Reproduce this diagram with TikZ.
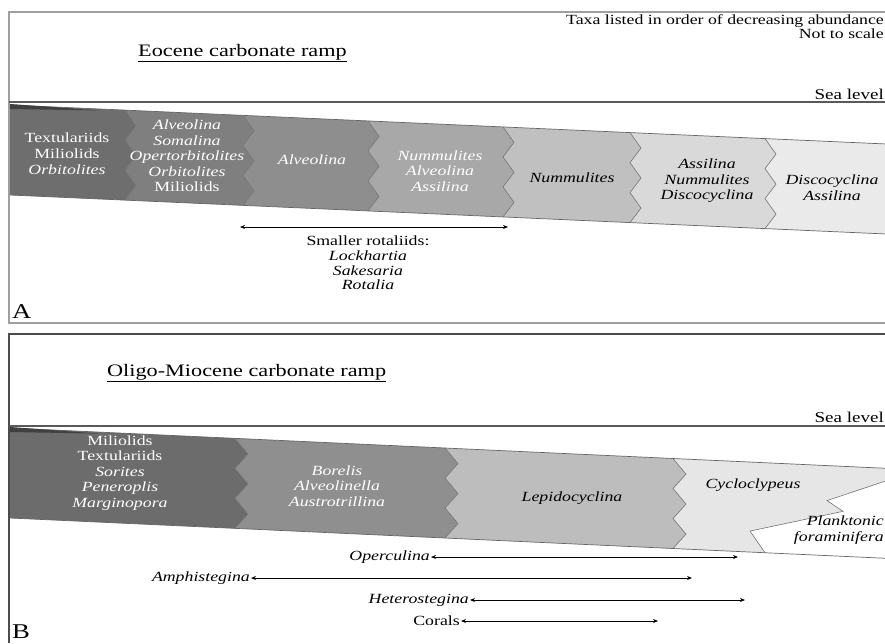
\documentclass[tikz,border=0pt]{standalone}
\usepackage{fontspec}
\setmainfont{Liberation Serif}[FakeStretch=1.27]
\usetikzlibrary{arrows.meta}
\definecolor{aone}{HTML}{6E6E6E}
\definecolor{atwo}{HTML}{7F7F7F}
\definecolor{athree}{HTML}{8E8E8E}
\definecolor{afour}{HTML}{A8A8A8}
\definecolor{afive}{HTML}{C0C0C0}
\definecolor{asix}{HTML}{D9D9D9}
\definecolor{aseven}{HTML}{EAEAEA}
\definecolor{bone}{HTML}{6C6C6C}
\definecolor{btwo}{HTML}{8F8F8F}
\definecolor{bthree}{HTML}{BDBDBD}
\definecolor{bfour}{HTML}{E6E6E6}
\newcommand\zzdown[2]{-- (#1,0) -- ({#1+#2},15) -- (#1,30) -- ({#1+#2},45) -- (#1,60) -- ({#1+#2},75) -- (#1,90)}
\newcommand\zzup[2]{-- (#1,90) -- ({#1+#2},75) -- (#1,60) -- ({#1+#2},45) -- (#1,30) -- ({#1+#2},15) -- (#1,0)}
\tikzset{
  frameline/.style={draw=gray!75, line width=1.3pt},
  sealine/.style={draw=black!65, line width=1.1pt},
  bandedge/.style={draw=black!60, line width=0.7pt},
  divider/.style={draw=black!55, line width=0.6pt},
  wtxt/.style={text=white, font=\fontsize{14}{15.6}\selectfont\itshape, align=center, inner sep=0pt},
  ktxt/.style={text=black, font=\fontsize{14}{15.6}\selectfont\itshape, align=center, inner sep=0pt},
  lab/.style={font=\fontsize{14}{14.7}\selectfont\itshape, inner sep=1pt},
  hdr/.style={font=\fontsize{14}{14}\selectfont, inner sep=0pt},
  ttl/.style={font=\fontsize{17.5}{17.5}\selectfont, inner sep=0pt, anchor=west},
  panel/.style={font=\fontsize{21}{21}\selectfont, inner sep=0pt, anchor=west},
  rng/.style={{Stealth[length=5pt,width=4pt]}-{Stealth[length=5pt,width=4pt]}, line width=0.8pt}
}
\begin{document}
\begin{tikzpicture}[x=1pt, y=-1pt]
\useasboundingbox (0,0) rectangle (885,643);
\clip (0,0) rectangle (885,643);
\fill[white] (0,0) rectangle (885,643);

% ---------- Panel A ----------
\draw[frameline] (885,12) -- (9,12) -- (9,323) -- (885,323);
\draw[sealine] (9,102) -- (885,102);
\node[hdr, anchor=east] (taxa) at (884,21) {Taxa listed in order of decreasing abundance};
\node[hdr, anchor=east] (nts) at (884,34) {Not to scale};
\node[ttl] (titA) at (138,53) {\underline{Eocene carbonate ramp}};
\node[hdr, anchor=east, font=\fontsize{15}{15}\selectfont] (slA) at (884,94) {Sea level};

\begin{scope}[shift={(10,105)}, yslant=-0.0445]
  \fill[aone] (0,0) -- (115,0) \zzdown{115}{11} -- (0,90) -- cycle;
  \fill[atwo] (115,0) -- (233,0) \zzdown{233}{11} -- (115,90) \zzup{115}{11} -- cycle;
  \fill[athree] (233,0) -- (358,0) \zzdown{358}{11} -- (233,90) \zzup{233}{11} -- cycle;
  \fill[afour] (358,0) -- (493,0) \zzdown{493}{11} -- (358,90) \zzup{358}{11} -- cycle;
  \fill[afive] (493,0) -- (620,0) \zzdown{620}{11} -- (493,90) \zzup{493}{11} -- cycle;
  \fill[asix] (620,0) -- (755,0) \zzdown{755}{11} -- (620,90) \zzup{620}{11} -- cycle;
  \fill[aseven] (755,0) -- (880,0) -- (880,90) -- (755,90) \zzup{755}{11} -- cycle;
  \foreach \b in {115,233,358,493,620,755} {\draw[divider] (\b,0) \zzdown{\b}{11};}
  \draw[bandedge] (0,0) -- (880,0);
  \draw[bandedge] (0,90) -- (880,90);
  \fill[black!75] (0,-1) .. controls (40,0) and (70,1) .. (90,1.5) -- (0,4) -- cycle;
\end{scope}

\node[wtxt, font=\fontsize{14}{16}\selectfont] (a1) at (67,154) {Textulariids\\Miliolids\\\textit{Orbitolites}};
\node[wtxt] (a2) at (187,156) {Alveolina\\Somalina\\Opertorbitolites\\Orbitolites\\\textup{Miliolids}};
\node[wtxt] (a3) at (312,160) {Alveolina};
\node[wtxt] (a4) at (440,171) {Nummulites\\Alveolina\\Assilina};
\node[ktxt] (a5) at (572,178) {Nummulites};
\node[ktxt] (a6) at (707,181) {Assilina\\Nummulites\\Discocyclina};
\node[ktxt] (a7) at (832,188) {Discocyclina\\Assilina};

\coordinate (srL) at (240,227);
\coordinate (srR) at (508,227);
\draw[rng] (srL) -- (srR);
\node[lab, align=center, font=\fontsize{14}{14.7}\selectfont] (srt) at (368,263) {Smaller rotaliids:\\\textit{Lockhartia}\\\textit{Sakesaria}\\\textit{Rotalia}};
\node[panel] (pA) at (12,312) {A};

% ---------- Panel B ----------
\draw[frameline, draw=black!70] (885,334) -- (9,334) -- (9,643);
\draw[sealine] (9,426) -- (885,426);
\node[ttl] (titB) at (107,373) {\underline{Oligo-Miocene carbonate ramp}};
\node[hdr, anchor=east, font=\fontsize{15}{15}\selectfont] (slB) at (884,417) {Sea level};

\begin{scope}[shift={(10,428)}, yslant=-0.046]
  \fill[bone] (0,0) -- (225,0) \zzdown{225}{13} -- (0,90) -- cycle;
  \fill[btwo] (225,0) -- (435,0) \zzdown{435}{13} -- (225,90) \zzup{225}{13} -- cycle;
  \fill[bthree] (435,0) -- (663,0) \zzdown{663}{13} -- (435,90) \zzup{435}{13} -- cycle;
  \fill[bfour] (663,0) -- (880,0) -- (880,11) -- (817,35) -- (833,45) -- (740,69) -- (755,90) -- (663,90) \zzup{663}{13} -- cycle;
  \foreach \b in {225,435,663} {\draw[divider] (\b,0) \zzdown{\b}{13};}
  \draw[divider] (880,11) -- (817,35) -- (833,45) -- (740,69) -- (755,90);
  \draw[bandedge] (0,0) -- (880,0);
  \draw[bandedge] (0,90) -- (880,90);
  \fill[black!75] (0,-1) .. controls (40,0) and (70,1) .. (90,1.5) -- (0,4) -- cycle;
\end{scope}

\node[wtxt] (b1) at (120,473) {\textup{Miliolids}\\\textup{Textulariids}\\Sorites\\Peneroplis\\Marginopora};
\node[wtxt] (b2) at (337,486) {Borelis\\Alveolinella\\Austrotrillina};
\node[ktxt] (b3) at (572,498) {Lepidocyclina};
\node[ktxt] (b4) at (753,485) {Cycloclypeus};
\node[ktxt, anchor=east] (b5) at (884,521) {Planktonic};
\node[ktxt, anchor=east] (b6) at (884,538) {foraminifera};

\node[lab, anchor=east] (op) at (431,557) {Operculina};
\coordinate (opR) at (738,557);
\draw[rng] (op.east) -- (opR);
\node[lab, anchor=east] (am) at (251,578) {Amphistegina};
\coordinate (amR) at (692,578);
\draw[rng] (am.east) -- (amR);
\node[lab, anchor=east] (he) at (470,600) {Heterostegina};
\coordinate (heR) at (745,600);
\draw[rng] (he.east) -- (heR);
\node[lab, anchor=east, font=\fontsize{14}{14}\selectfont] (co) at (461,621) {Corals};
\coordinate (coR) at (658,621);
\draw[rng] (co.east) -- (coR);
\node[panel] (pB) at (12,632) {B};
\end{tikzpicture}
\end{document}
